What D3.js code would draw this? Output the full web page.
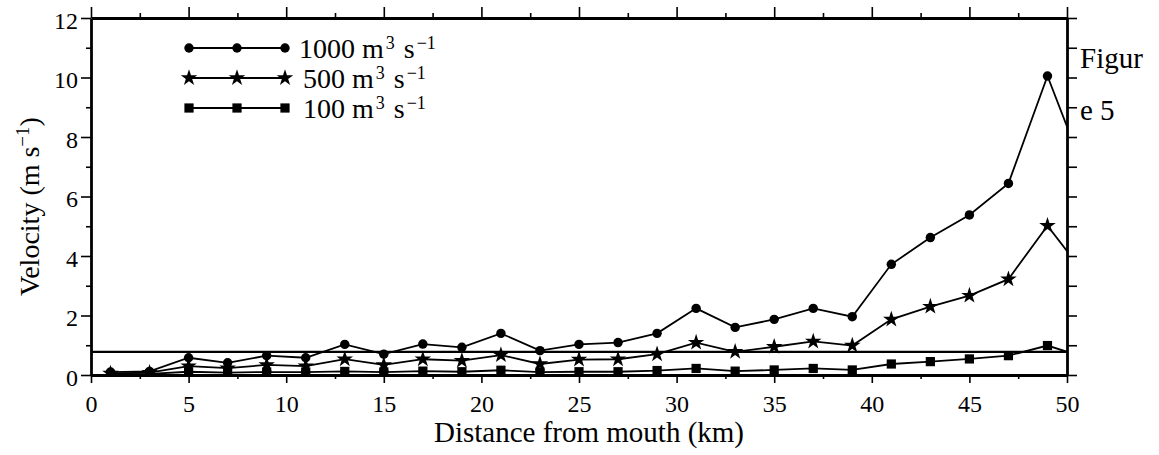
<!DOCTYPE html>
<html>
<head>
<meta charset="utf-8">
<script src="https://cdn.jsdelivr.net/npm/d3@7/dist/d3.min.js"></script>
<style>
    body { margin: 0; background: #fff; }
    svg text { font-family: "Liberation Serif", "Times New Roman", Times, serif !important; fill: #000; }
</style>
</head>
<body>
<script>
// distance from mouth (km); the last point lies past the axis and is clipped
var distance = [1, 3, 5, 7, 9, 11, 13, 15, 17, 19, 21, 23, 25, 27, 29, 31, 33, 35, 37, 39, 41, 43, 45, 47, 49, 51];
var q1000 = [0.10, 0.12, 0.58, 0.41, 0.65, 0.58, 1.03, 0.70, 1.04, 0.93, 1.40, 0.82, 1.03, 1.09, 1.40, 2.24, 1.60, 1.87, 2.24, 1.96, 3.72, 4.62, 5.38, 6.44, 10.05, 6.65];
var q500 = [0.05, 0.08, 0.30, 0.23, 0.34, 0.30, 0.53, 0.34, 0.53, 0.48, 0.67, 0.37, 0.52, 0.53, 0.70, 1.09, 0.78, 0.95, 1.13, 0.99, 1.87, 2.30, 2.67, 3.22, 5.02, 3.32];
var q100 = [0.02, 0.04, 0.11, 0.08, 0.10, 0.10, 0.12, 0.10, 0.13, 0.11, 0.16, 0.10, 0.11, 0.11, 0.15, 0.22, 0.13, 0.17, 0.22, 0.17, 0.37, 0.45, 0.54, 0.65, 0.99, 0.57];
var seriesLabels = ["1000", "500", "100"];
var threshold = 0.78;

var xTicks = [0, 5, 10, 15, 20, 25, 30, 35, 40, 45, 50];
var yTicks = [0, 2, 4, 6, 8, 10, 12];

var serif = '"Liberation Serif", "Times New Roman", Times, serif';

var margin = {top: 18, right: 92, bottom: 80, left: 91},
    width = 1159 - margin.left - margin.right,
    height = 455 - margin.top - margin.bottom;

var series = [
    {label: seriesLabels[0], values: q1000, symbol: d3.symbolCircle, size: 70},
    {label: seriesLabels[1], values: q500, symbol: d3.symbolStar, size: 85},
    {label: seriesLabels[2], values: q100, symbol: d3.symbolSquare, size: 85}
];

var x = d3.scaleLinear().domain([0, 50]).range([0, width]);
var y = d3.scaleLinear().domain([0, 12]).range([height, 0]);

var svg = d3.select("body").append("svg")
    .attr("width", 1159)
    .attr("height", 455)
    .append("g")
    .attr("transform", "translate(" + margin.left + "," + margin.top + ")");

svg.append("clipPath").attr("id", "plot")
    .append("rect")
    .attr("width", width)
    .attr("height", height);

var minorX = d3.range(2.5, 50, 5);
var minorY = d3.range(1, 12, 2);

function styleAxis(g, w) {
    g.attr("font-family", null);
    g.select(".domain").attr("stroke-width", w);
    g.selectAll(".tick line").attr("stroke-width", 1.6);
    g.selectAll("text")
        .style("font-family", serif)
        .style("font-size", "24px")
        .attr("fill", "#000");
}

function minorStyle(g) {
    g.select(".domain").remove();
    g.selectAll("line").attr("stroke-width", 1.6);
}

// bottom
svg.append("g").attr("transform", "translate(0," + height + ")")
    .call(d3.axisBottom(x).tickValues(minorX).tickSize(4).tickSizeOuter(0).tickFormat(""))
    .call(minorStyle);
svg.append("g").attr("transform", "translate(0," + height + ")")
    .call(d3.axisBottom(x).tickValues(xTicks).tickSize(8).tickSizeOuter(0).tickPadding(6))
    .call(function (g) { styleAxis(g, 3.2); g.selectAll("text").attr("dy", "0.95em"); });

// top
svg.append("g")
    .call(d3.axisTop(x).tickValues(minorX).tickSize(5).tickSizeOuter(0).tickFormat(""))
    .call(minorStyle);
svg.append("g")
    .call(d3.axisTop(x).tickValues(xTicks).tickSize(11).tickSizeOuter(0).tickFormat(""))
    .call(function (g) { styleAxis(g, 2.8); });

// left
svg.append("g")
    .call(d3.axisLeft(y).tickValues(minorY).tickSize(5).tickSizeOuter(0).tickFormat(""))
    .call(minorStyle);
svg.append("g")
    .call(d3.axisLeft(y).tickValues(yTicks).tickSize(10).tickSizeOuter(0).tickPadding(3))
    .call(function (g) { styleAxis(g, 2.8); g.selectAll("text").attr("dy", "0.42em"); });

// right
svg.append("g").attr("transform", "translate(" + width + ",0)")
    .call(d3.axisRight(y).ticks(12).tickSize(10).tickSizeOuter(0).tickFormat(""))
    .call(function (g) { styleAxis(g, 2.8); });

// reference line
svg.append("line")
    .attr("x1", 0)
    .attr("x2", width)
    .attr("y1", y(threshold))
    .attr("y2", y(threshold))
    .attr("stroke", "#000")
    .attr("stroke-width", 2.2);

var line = d3.line()
    .x(function (d) { return x(d[0]); })
    .y(function (d) { return y(d[1]); });

var plot = svg.append("g").attr("clip-path", "url(#plot)");

series.forEach(function (s) {
    var pts = distance.map(function (d, i) { return [d, s.values[i]]; });
    plot.append("path")
        .datum(pts)
        .attr("d", line)
        .attr("fill", "none")
        .attr("stroke", "#000")
        .attr("stroke-width", 1.8);
    plot.selectAll(null)
        .data(pts)
        .enter().append("path")
        .attr("transform", function (d) { return "translate(" + x(d[0]) + "," + y(d[1]) + ")"; })
        .attr("d", d3.symbol().type(s.symbol).size(s.size))
        .attr("fill", "#000");
});

// legend
var legend = svg.append("g").attr("transform", "translate(98,30)");
series.forEach(function (s, i) {
    var row = legend.append("g").attr("transform", "translate(0," + (i * 30) + ")");
    row.append("line")
        .attr("x1", 0).attr("x2", 96)
        .attr("stroke", "#000").attr("stroke-width", 1.8);
    [0, 48, 96].forEach(function (px) {
        row.append("path")
            .attr("transform", "translate(" + px + ",0)")
            .attr("d", d3.symbol().type(s.symbol).size(s.size))
            .attr("fill", "#000");
    });
    var t = row.append("text")
        .attr("x", i === 0 ? 110 : 114)
        .attr("y", 10)
        .style("font-size", "28px");
    t.append("tspan").text(s.label + " m");
    t.append("tspan").attr("dx", 2).attr("dy", -9).style("font-size", "18px").text("3");
    t.append("tspan").attr("dx", 2).attr("dy", 9).text(" s");
    t.append("tspan").attr("dx", 2).attr("dy", -9).style("font-size", "18px").text("\u22121");
});

// axis titles
svg.append("text")
    .attr("x", width / 2 + 10)
    .attr("y", height + 67)
    .attr("text-anchor", "middle")
    .style("font-size", "29px")
    .text("Distance from mouth (km)");

var yt = svg.append("text")
    .attr("transform", "translate(-52," + (height / 2 + 10) + ") rotate(-90)")
    .attr("text-anchor", "middle")
    .style("font-size", "28px");
yt.append("tspan").text("Velocity (m s");
yt.append("tspan").attr("dy", -10).style("font-size", "19px").text("\u22121");
yt.append("tspan").attr("dy", 10).text(")");

// side caption
svg.append("text").attr("x", width + 13).attr("y", 50).style("font-size", "29px").text("Figur");
svg.append("text").attr("x", width + 13).attr("y", 102).style("font-size", "29px").text("e 5");
</script>
</body>
</html>
